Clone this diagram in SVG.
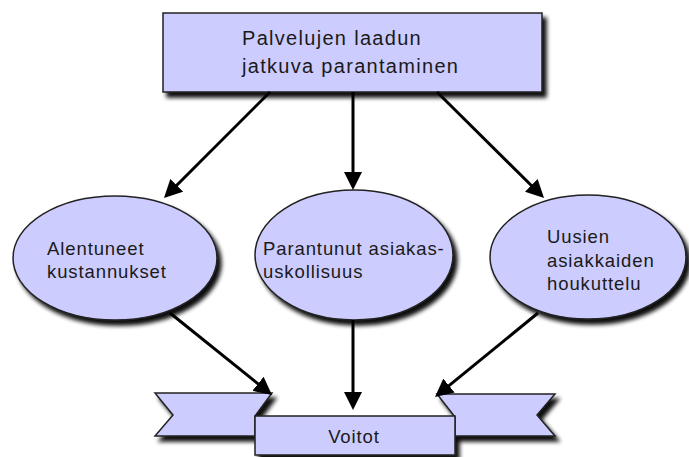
<svg xmlns="http://www.w3.org/2000/svg" width="689" height="457" viewBox="0 0 689 457">
<style>
.shape{fill:#ccccff;stroke:#222;stroke-width:1.5}
.t{font-family:"Liberation Sans",Arial,sans-serif;fill:#1a1a1a}
.big{font-size:20px;letter-spacing:1.3px}
.mid{font-size:18.5px;letter-spacing:0.9px}
.conn{stroke:#000;stroke-width:3;fill:none;marker-end:url(#ah)}
</style>
<defs>
<filter id="sh" x="-20%" y="-20%" width="150%" height="160%">
<feGaussianBlur in="SourceAlpha" stdDeviation="2.2"/>
<feOffset dx="4" dy="5" result="b"/>
<feComponentTransfer><feFuncA type="linear" slope="0.95"/></feComponentTransfer>
<feMerge><feMergeNode/><feMergeNode in="SourceGraphic"/></feMerge>
</filter>
<marker id="ah" markerUnits="userSpaceOnUse" markerWidth="18" markerHeight="18" refX="13" refY="9" orient="auto">
<path d="M0,0 L18,9 L0,18 z" fill="#000"/>
</marker>
</defs>
<rect width="689" height="457" fill="#fff"/>
<g id="node-top">
<rect class="shape" x="163" y="13" width="379" height="79" filter="url(#sh)"/>
<text class="t big" x="242" y="45">Palvelujen laadun</text>
<text class="t big" x="242" y="73">jatkuva parantaminen</text>
</g>
<g id="node-left">
<ellipse class="shape" cx="115" cy="258" rx="102" ry="62" filter="url(#sh)"/>
<text class="t mid" x="47" y="255">Alentuneet</text>
<text class="t mid" x="47" y="278">kustannukset</text>
</g>
<g id="node-middle">
<ellipse class="shape" cx="354" cy="255" rx="99" ry="65" filter="url(#sh)"/>
<text class="t mid" x="263" y="255">Parantunut asiakas-</text>
<text class="t mid" x="263" y="278">uskollisuus</text>
</g>
<g id="node-right">
<ellipse class="shape" cx="588" cy="257" rx="98" ry="62" filter="url(#sh)"/>
<text class="t mid" x="547" y="243">Uusien</text>
<text class="t mid" x="547" y="267">asiakkaiden</text>
<text class="t mid" x="547" y="290">houkuttelu</text>
</g>
<g id="node-bottom">
<g filter="url(#sh)">
<polygon class="shape" points="155,393 272,393 255,416 255,436 155,436 173,415"/>
<polygon class="shape" points="437,394 555,394 537,415 555,436 455,436 455,417"/>
<rect class="shape" x="255" y="416" width="200" height="39"/>
</g>
<text class="t mid" x="354" y="443" text-anchor="middle" letter-spacing="1.5">Voitot</text>
</g>
<g id="connectors">
<line class="conn" x1="270" y1="92" x2="167.5" y2="194.5"/>
<line class="conn" x1="353" y1="92" x2="353" y2="185"/>
<line class="conn" x1="437" y1="92" x2="540.5" y2="194.5"/>
<line class="conn" x1="170" y1="313" x2="268.1" y2="391.9"/>
<line class="conn" x1="353" y1="320" x2="353" y2="405"/>
<line class="conn" x1="538" y1="313" x2="438.9" y2="393.8"/>
</g>
</svg>
